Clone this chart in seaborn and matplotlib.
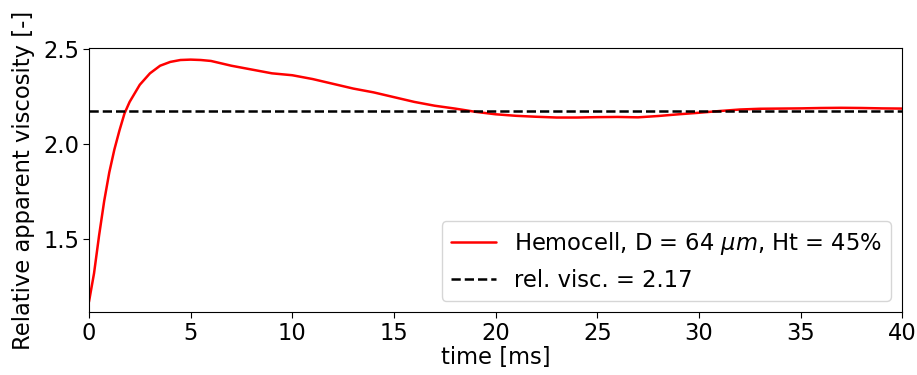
import numpy as np
import pandas as pd
import matplotlib
matplotlib.use("Agg")
import matplotlib.pyplot as plt
import seaborn as sns

# values
time_ms = [0.0, 0.25, 0.5, 0.75, 1.0, 1.25, 1.5, 1.75, 2.0, 2.5, 3.0, 3.5, 4.0, 4.5,
           5.0, 5.5, 6.0, 7.0, 8.0, 9.0, 10.0, 11.0, 12.0, 13.0, 14.0, 15.0, 16.0,
           17.0, 18.0, 19.0, 20.0, 21.0, 22.0, 23.0, 24.0, 25.0, 26.0, 27.0, 28.0,
           29.0, 30.0, 31.0, 32.0, 33.0, 34.0, 35.0, 36.0, 37.0, 38.0, 39.0, 40.0]
rel_visc = [1.17, 1.32, 1.52, 1.70, 1.85, 1.97, 2.07, 2.16, 2.22, 2.31, 2.37, 2.41,
            2.43, 2.44, 2.442, 2.44, 2.435, 2.41, 2.39, 2.37, 2.36, 2.34, 2.315,
            2.29, 2.27, 2.245, 2.22, 2.20, 2.185, 2.168, 2.155, 2.147, 2.142, 2.138,
            2.138, 2.140, 2.141, 2.139, 2.146, 2.155, 2.163, 2.172, 2.180, 2.184,
            2.185, 2.186, 2.188, 2.189, 2.188, 2.186, 2.185]
ref_visc = 2.17

sim_label = r"Hemocell, D = 64 $\mu m$, Ht = 45%"
ref_label = f"rel. visc. = {ref_visc:.2f}"

df = pd.DataFrame({"time": time_ms, "visc": rel_visc})

sns.set_style("ticks", {"axes.edgecolor": "black", "text.color": "black",
                        "axes.labelcolor": "black", "xtick.color": "black",
                        "ytick.color": "black"})
plt.rcParams["font.family"] = ["DejaVu Sans"]
fs = 16.3

fig, ax = plt.subplots(figsize=(9.17, 3.75), dpi=100)
fig.subplots_adjust(left=0.097, right=0.984, top=0.872, bottom=0.168)

sns.lineplot(data=df, x="time", y="visc", color="red", linewidth=1.8,
             label=sim_label, ax=ax)
ax.axhline(ref_visc, color="black", linestyle="--", linewidth=1.8, label=ref_label)

ax.set_xlim(0, 40)
ax.set_ylim(1.117, 2.503)
ax.set_yticks([1.5, 2.0, 2.5])
ax.set_xlabel("time [ms]", fontsize=fs, labelpad=1)
ax.set_ylabel("Relative apparent viscosity [-]", fontsize=fs, labelpad=6)
ax.tick_params(labelsize=fs, length=4, pad=3)

ax.legend(loc="lower right", fontsize=fs, frameon=True, framealpha=0.8,
          edgecolor="#cccccc", fancybox=True, borderaxespad=0.5)

fig.savefig("out.png", dpi=100)
